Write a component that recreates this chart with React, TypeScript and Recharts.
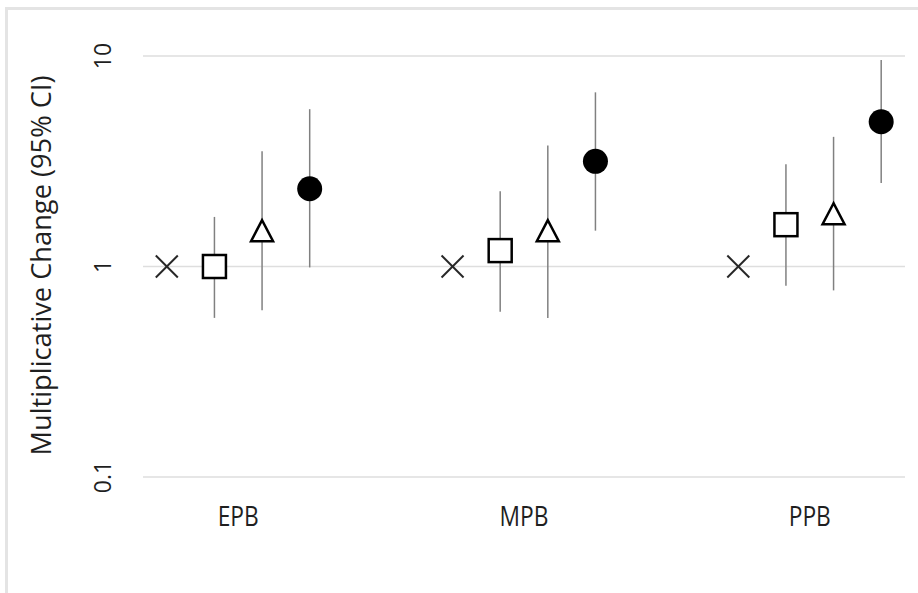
import React from "react";
import { ScatterChart, Scatter, XAxis, YAxis, CartesianGrid, ErrorBar } from "recharts";

const categories = ["EPB", "MPB", "PPB"];
const yTicks = [0.1, 1, 10];

const refValues = [1, 1, 1];

const squareValues = [1.0, 1.19, 1.58];
const squareLow = [0.57, 0.61, 0.81];
const squareHigh = [1.72, 2.28, 3.06];

const triangleValues = [1.48, 1.48, 1.78];
const triangleLow = [0.62, 0.57, 0.77];
const triangleHigh = [3.53, 3.76, 4.13];

const circleValues = [2.34, 3.16, 4.87];
const circleLow = [0.99, 1.48, 2.49];
const circleHigh = [5.59, 6.72, 9.57];

// slot of each series within a category group
const seriesSlots = [-3 / 12, -1 / 12, 1 / 12, 3 / 12];

const build = (vals: number[], slot: number, lo?: number[], hi?: number[]) =>
  vals.map((v, i) => ({
    x: i + 1 + slot,
    y: v,
    err: lo && hi ? [v - lo[i], hi[i] - v] : [0, 0],
  }));

const refData = build(refValues, seriesSlots[0]);
const squareData = build(squareValues, seriesSlots[1], squareLow, squareHigh);
const triangleData = build(triangleValues, seriesSlots[2], triangleLow, triangleHigh);
const circleData = build(circleValues, seriesSlots[3], circleLow, circleHigh);

const FONT = "'Open Sans', 'DejaVu Sans', sans-serif";
const TEXT = "#1f1f1f";

const XShape = (p: any) => {
  const { cx, cy } = p;
  const s = 11;
  return (
    <g>
      <line x1={cx - s} y1={cy - s} x2={cx + s} y2={cy + s} stroke="#262626" strokeWidth={2} />
      <line x1={cx - s} y1={cy + s} x2={cx + s} y2={cy - s} stroke="#262626" strokeWidth={2} />
    </g>
  );
};

const SquareShape = (p: any) => {
  const { cx, cy } = p;
  const s = 11.5;
  return <rect x={cx - s} y={cy - s} width={2 * s} height={2 * s} fill="#fff" stroke="#000" strokeWidth={2.5} />;
};

const TriangleShape = (p: any) => {
  const { cx, cy } = p;
  const w = 11;
  const h = 10.5;
  return (
    <polygon
      points={`${cx},${cy - h} ${cx - w},${cy + h} ${cx + w},${cy + h}`}
      fill="#fff"
      stroke="#000"
      strokeWidth={2.5}
      strokeLinejoin="miter"
    />
  );
};

const CircleShape = (p: any) => {
  const { cx, cy } = p;
  return <circle cx={cx} cy={cy} r={12.5} fill="#000" />;
};

const YTick = (p: any) => {
  const { x, y, payload } = p;
  return (
    <text
      x={x}
      y={y}
      transform={`rotate(-90 ${x} ${y})`}
      textAnchor="middle"
      dominantBaseline="central"
      fontFamily={FONT}
      fontSize={23}
      fill={TEXT}
    >
      {payload.value}
    </text>
  );
};

const XTick = (p: any) => {
  const { x, y, payload } = p;
  const idx = Math.round(payload.value) - 1;
  return (
    <text
      x={x}
      y={y}
      transform={`translate(${x} ${y}) scale(0.95 1.12) translate(${-x} ${-y})`}
      textAnchor="middle"
      fontFamily={FONT}
      fontSize={24}
      fill={TEXT}
    >
      {categories[idx]}
    </text>
  );
};

const YLabel = (p: any) => {
  const vb = p.viewBox;
  const cx = 40;
  const cy = vb.y + vb.height / 2 - 1;
  return (
    <text
      x={cx}
      y={cy}
      transform={`rotate(-90 ${cx} ${cy})`}
      textAnchor="middle"
      dominantBaseline="central"
      fontFamily={FONT}
      fontSize={27}
      textLength={380}
      lengthAdjust="spacingAndGlyphs"
      fill={TEXT}
    >
      Multiplicative Change (95% CI)
    </text>
  );
};

export default function App() {
  return (
    <div style={{ position: "fixed", left: 0, top: 0, width: 918, height: 593, overflow: "hidden", background: "#fff" }}>
      <div
        style={{
          position: "absolute",
          left: 5,
          top: 7,
          width: 1000,
          height: 1000,
          border: "3px solid #e4e4e4",
        }}
      />
      <div style={{ position: "absolute", left: 0, top: 0 }}>
        <ScatterChart width={918} height={593} margin={{ top: 56, right: 13, bottom: 56, left: 83 }}>
          <CartesianGrid horizontal={true} vertical={false} stroke="#dedede" strokeWidth={1.5} />
          <XAxis
            type="number"
            dataKey="x"
            domain={[2 / 3, 10 / 3]}
            ticks={[1, 2, 3]}
            allowDataOverflow
            axisLine={false}
            tickLine={false}
            tickSize={0}
            tickMargin={49}
            height={60}
            tick={<XTick />}
            interval={0}
          />
          <YAxis
            type="number"
            dataKey="y"
            scale="log"
            domain={[0.1, 10]}
            ticks={yTicks}
            allowDataOverflow
            axisLine={false}
            tickLine={false}
            tickSize={0}
            tickMargin={41}
            width={60}
            tick={<YTick />}
            interval={0}
            label={<YLabel />}
          />
          <Scatter data={refData} shape={<XShape />} isAnimationActive={false} />
          <Scatter data={squareData} shape={<SquareShape />} isAnimationActive={false}>
            <ErrorBar dataKey="err" direction="y" width={0} stroke="#808080" strokeWidth={1.5} />
          </Scatter>
          <Scatter data={triangleData} shape={<TriangleShape />} isAnimationActive={false}>
            <ErrorBar dataKey="err" direction="y" width={0} stroke="#808080" strokeWidth={1.5} />
          </Scatter>
          <Scatter data={circleData} shape={<CircleShape />} isAnimationActive={false}>
            <ErrorBar dataKey="err" direction="y" width={0} stroke="#808080" strokeWidth={1.5} />
          </Scatter>
        </ScatterChart>
      </div>
    </div>
  );
}
